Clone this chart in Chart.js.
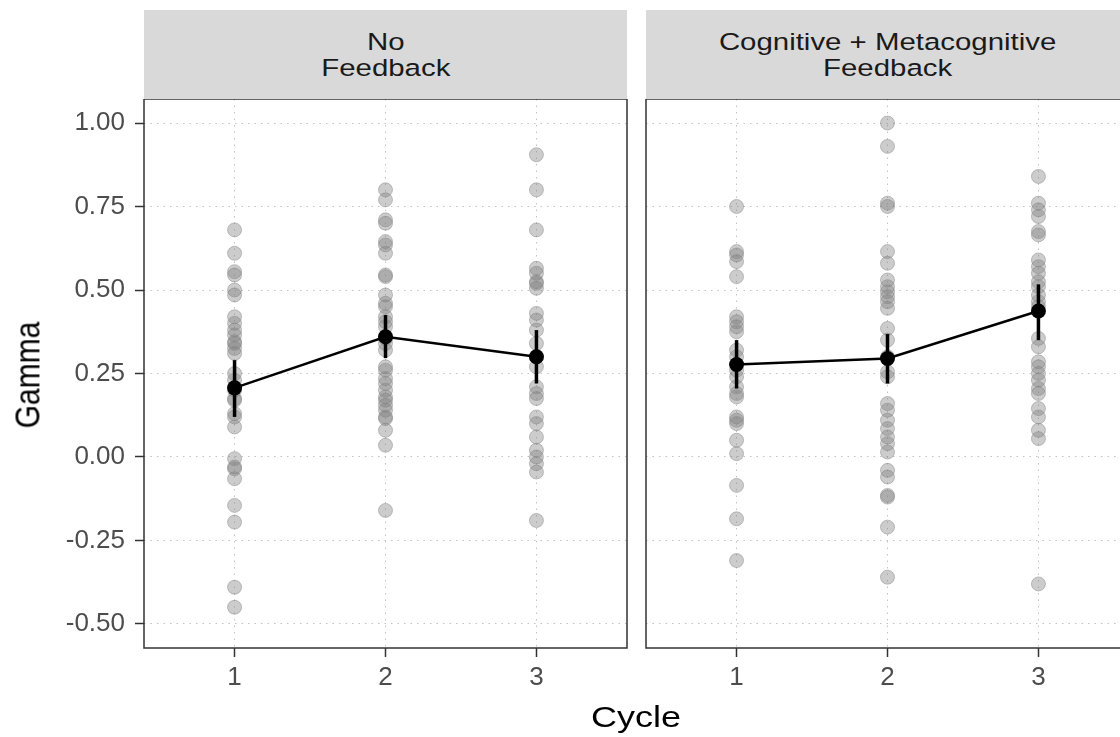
<!DOCTYPE html>
<html>
<head>
<meta charset="utf-8">
<script src="https://cdn.jsdelivr.net/npm/chart.js@4.4.1/dist/chart.umd.min.js"></script>
<style>
  html, body { margin:0; padding:0; width:1120px; height:737px; overflow:hidden; background:#fff; font-family:"Liberation Sans", Arial, sans-serif; }
  canvas { position:absolute; }
  .strip { position:absolute; top:10px; height:89px; width:483px; background:#d9d9d9; color:#1a1a1a; font-size:24.5px; line-height:26px; display:flex; align-items:center; justify-content:center; text-align:center; }
  .strip span { display:inline-block; transform:scaleX(1.2); white-space:nowrap; }
  .axtitle { position:absolute; font-size:30px; color:#000; white-space:nowrap; line-height:1; }
</style>
</head>
<body>
<div class="strip" style="left:144px;"><span>No<br>Feedback</span></div>
<div class="strip" style="left:646px;"><span>Cognitive + Metacognitive<br>Feedback</span></div>
<canvas id="c1" width="640" height="638" style="left:0px; top:99px;"></canvas>
<canvas id="c2" width="640" height="638" style="left:502px; top:99px;"></canvas>
<div class="axtitle" style="left:28px; top:375px; transform:translate(-50%,-50%) rotate(-90deg) scaleY(1.15);">Gamma</div>
<div class="axtitle" style="left:636px; top:717px; transform:translate(-50%,-50%) scaleX(1.2);">Cycle</div>
<script>
// ---- Data ----
const cycles = [1, 2, 3];
const yTicks = [-0.5, -0.25, 0, 0.25, 0.5, 0.75, 1.0];
const panelTitles = ["No Feedback", "Cognitive + Metacognitive Feedback"];

// No Feedback raw gammas per cycle
const noFbCycle1 = [0.68, 0.61, 0.555, 0.545, 0.50, 0.485, 0.42, 0.40, 0.38, 0.365, 0.345, 0.34, 0.325, 0.31, 0.25, 0.23, 0.20, 0.175, 0.17, 0.13, 0.12, 0.09, -0.005, -0.03, -0.035, -0.065, -0.145, -0.195, -0.39, -0.45];
const noFbCycle2 = [0.80, 0.77, 0.71, 0.70, 0.645, 0.635, 0.61, 0.545, 0.54, 0.485, 0.46, 0.45, 0.42, 0.405, 0.39, 0.355, 0.34, 0.32, 0.27, 0.26, 0.235, 0.22, 0.20, 0.18, 0.17, 0.155, 0.14, 0.12, 0.115, 0.08, 0.035, -0.16];
const noFbCycle3 = [0.905, 0.80, 0.68, 0.565, 0.55, 0.525, 0.52, 0.505, 0.43, 0.41, 0.38, 0.34, 0.30, 0.27, 0.21, 0.19, 0.175, 0.12, 0.10, 0.06, 0.02, 0.0, -0.02, -0.045, -0.19];
const noFbMean = [0.207, 0.36, 0.30];
const noFbLow  = [0.12, 0.296, 0.22];
const noFbHigh = [0.29, 0.425, 0.38];

// Cognitive + Metacognitive Feedback raw gammas per cycle
const cmFbCycle1 = [0.75, 0.615, 0.605, 0.585, 0.54, 0.42, 0.405, 0.39, 0.375, 0.32, 0.30, 0.26, 0.24, 0.21, 0.19, 0.18, 0.12, 0.11, 0.10, 0.05, 0.01, -0.085, -0.185, -0.31];
const cmFbCycle2 = [1.00, 0.93, 0.76, 0.75, 0.615, 0.58, 0.53, 0.51, 0.495, 0.48, 0.465, 0.445, 0.385, 0.35, 0.30, 0.255, 0.24, 0.16, 0.14, 0.11, 0.085, 0.06, 0.04, 0.015, -0.04, -0.06, -0.115, -0.12, -0.21, -0.36];
const cmFbCycle3 = [0.84, 0.76, 0.74, 0.72, 0.675, 0.665, 0.59, 0.57, 0.55, 0.525, 0.51, 0.485, 0.465, 0.45, 0.355, 0.33, 0.285, 0.27, 0.25, 0.23, 0.205, 0.19, 0.145, 0.12, 0.08, 0.055, -0.38];
const cmFbMean = [0.277, 0.295, 0.437];
const cmFbLow  = [0.205, 0.22, 0.35];
const cmFbHigh = [0.35, 0.368, 0.517];

// ---- Chart building ----
const FONT = "'Liberation Sans', Arial, sans-serif";
const framePlugin = {
  id: 'frame',
  afterDraw(chart) {
    const a = chart.chartArea, ctx = chart.ctx;
    ctx.save();
    ctx.strokeStyle = '#333333';
    ctx.lineWidth = 1.5;
    ctx.strokeRect(a.left, a.top, a.right - a.left, a.bottom - a.top);
    ctx.restore();
  }
};
function zeroPad(s) { s.paddingTop = 0; s.paddingBottom = 0; s.paddingLeft = 0; s.paddingRight = 0; }

function buildPanel(id, raws, mean, low, high, showY) {
  const datasets = [];
  datasets.push({
    data: cycles.map((c, i) => ({x: c, y: mean[i]})),
    showLine: false, pointRadius: 7.5, pointBackgroundColor: '#000', pointBorderColor: '#000', pointBorderWidth: 0, order: 0
  });
  cycles.forEach((c, i) => {
    datasets.push({
      data: [{x: c, y: low[i]}, {x: c, y: high[i]}],
      showLine: true, borderColor: '#000', borderWidth: 3.5, pointRadius: 0, borderCapStyle: 'butt', order: 1
    });
  });
  datasets.push({
    data: cycles.map((c, i) => ({x: c, y: mean[i]})),
    showLine: true, borderColor: '#000', borderWidth: 2.5, pointRadius: 0, order: 2
  });
  raws.forEach((arr, k) => {
    datasets.push({
      data: arr.map(v => ({x: cycles[k], y: v})),
      showLine: false, pointRadius: 7, pointBorderWidth: 1,
      pointBackgroundColor: 'rgba(128,128,128,0.4)', pointBorderColor: 'rgba(128,128,128,0.45)', order: 3
    });
  });

  return new Chart(document.getElementById(id), {
    type: 'scatter',
    data: { datasets },
    plugins: [framePlugin],
    options: {
      responsive: false, animation: false, devicePixelRatio: 1,
      layout: { autoPadding: false, padding: { left: 0, right: 13, top: 0, bottom: 0 } },
      plugins: { legend: { display: false }, tooltip: { enabled: false }, title: { display: false } },
      scales: {
        x: {
          type: 'linear', min: 0.4, max: 3.6,
          afterBuildTicks: s => { s.ticks = cycles.map(v => ({value: v})); },
          afterFit: s => { s.height = 89; zeroPad(s); },
          ticks: { color: '#4d4d4d', font: { family: FONT, size: 26 }, padding: 5, callback: v => String(v), maxRotation: 0 },
          grid: { color: '#c2c2c2', lineWidth: 1, tickLength: 9, tickColor: '#333', tickWidth: 1.5, drawTicks: true },
          border: { display: false, dash: [1.5, 5] }
        },
        y: {
          type: 'linear', min: -0.5719, max: 1.0719,
          afterBuildTicks: s => { s.ticks = yTicks.map(v => ({value: v})); },
          afterFit: s => { s.width = 144; zeroPad(s); },
          ticks: { display: showY, color: '#4d4d4d', font: { family: FONT, size: 26 }, padding: 10, callback: v => v.toFixed(2) },
          grid: { color: '#c2c2c2', lineWidth: 1, tickLength: 9, tickColor: '#333', tickWidth: 1.5, drawTicks: showY },
          border: { display: false, dash: [1.5, 5] }
        }
      }
    }
  });
}

buildPanel('c1', [noFbCycle1, noFbCycle2, noFbCycle3], noFbMean, noFbLow, noFbHigh, true);
buildPanel('c2', [cmFbCycle1, cmFbCycle2, cmFbCycle3], cmFbMean, cmFbLow, cmFbHigh, false);
</script>
</body>
</html>
